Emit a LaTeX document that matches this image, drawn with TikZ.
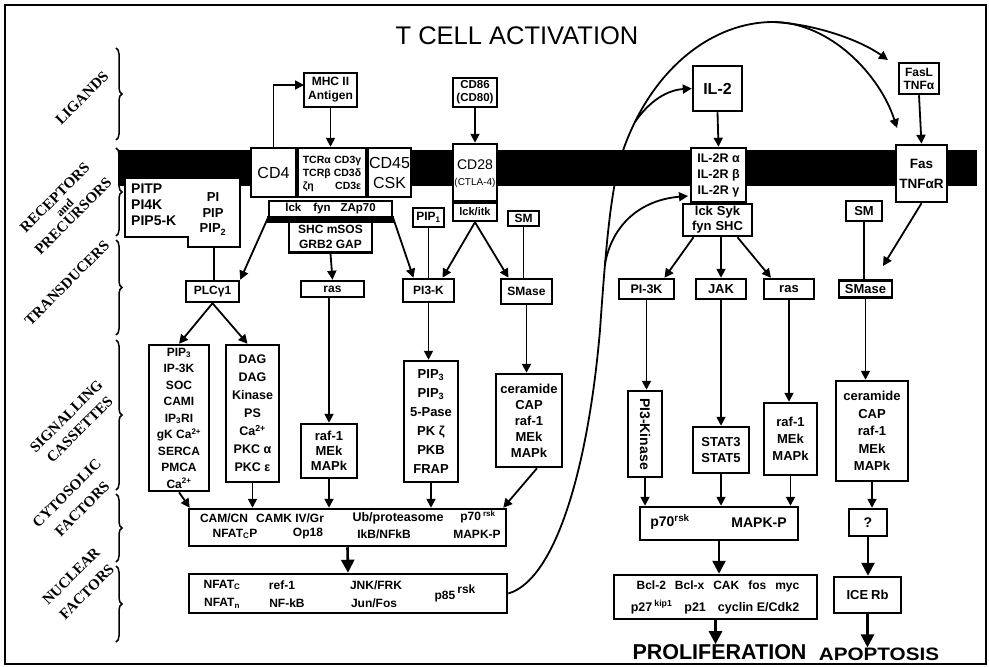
\documentclass[tikz,border=0pt]{standalone}
\usepackage{fontspec}
\setmainfont{Liberation Sans}
\newfontfamily\lblfont{Liberation Serif}
\usetikzlibrary{arrows.meta,decorations.pathreplacing}
\begin{document}
\begin{tikzpicture}[x=1pt,y=-1pt,
 bx/.style={draw,line width=2.5pt,fill=white,inner sep=0.5pt,align=center},
 sz/.style 2 args={minimum width=#1,minimum height=#2},
 f/.style 2 args={font=\bfseries\fontsize{#1}{#2}\selectfont},
 ar/.style={line width=1.8pt,-{Triangle[length=9pt,width=9pt]}},
 bar/.style={line width=2.6pt,-{Triangle[length=13pt,width=13pt]}},
 ln/.style={line width=1.8pt},
 lbl/.style={font=\lblfont\bfseries\fontsize{15}{15}\selectfont,rotate=45,inner sep=0pt,align=center},
 br/.style={decorate,decoration={brace,amplitude=6pt},line width=1.5pt},
 t/.style={inner sep=0pt,align=center}
]
\useasboundingbox (0,0) rectangle (989,667);
\fill[white] (0,0) rectangle (989,667);
\draw[line width=1.2pt] (5,5) rectangle (986,664);

% title
\node[t,font=\fontsize{25.5}{26}\selectfont] (title) at (517,36) {T CELL ACTIVATION};

% membrane
\fill (118,150) rectangle (977,186);

% PITP precursor box
\draw[line width=2.6pt,fill=white] (125,178) -- (240,178) -- (240,247) -- (188,247) -- (188,237) -- (125,237) -- cycle;
\node[t,f={14}{16},align=left,anchor=west] (pitp) at (131,205) {PITP\\PI4K\\PIP5-K};
\node[t,f={13}{15.5}] (pip) at (213,214) {PI\\PIP\\PIP\textsubscript{2}};
\coordinate (pitpb) at (214,247);

% receptor complex
\node[bx,sz={45}{49},font=\fontsize{16}{18}\selectfont] (cd4) at (273.5,172.5) {CD4};
\node[bx,sz={68}{49}] (tcr) at (332,172.5) {};
\node[t,f={10.5}{13}] (tcrt) at (332,174) {\begin{tabular}{@{}l@{\hspace{3pt}}r@{}}TCRα & CD3γ\\TCRβ & CD3δ\\ζη & CD3ε\end{tabular}};
\node[bx,sz={43}{49},font=\fontsize{16}{20}\selectfont] (cd45) at (389.5,172.5) {CD45\\CSK};
\node[bx,sz={123}{16},f={11.5}{12}] (lck1) at (330.5,209) {lck\hspace{12pt}fyn\hspace{10pt}ZAp70};
\fill (267,216) rectangle (394,223);
\node[bx,sz={83}{31},f={12}{15}] (shc) at (330.5,237) {SHC mSOS\\GRB2 GAP};

\node[bx,sz={53}{34},f={12}{14}] (mhc) at (330.5,90) {MHC II\\Antigen};
\node[bx,sz={44}{29},f={11.5}{13}] (cd86) at (475,92.5) {CD86\\(CD80)};
\node[bx,sz={44}{57}] (cd28) at (475,172.5) {};
\node[t,font=\fontsize{14}{14}\selectfont] (cd28a) at (475,165) {CD28};
\node[t,font=\fontsize{10}{10}\selectfont] (cd28b) at (475,183) {(CTLA-4)};
\node[bx,sz={44}{18},f={11}{12}] (lckitk) at (475,212) {lck/itk};
\node[bx,sz={31}{19},f={12}{12}] (pip1) at (428.5,217.5) {PIP\textsubscript{1}};
\node[bx,sz={31}{15},f={12}{12}] (sm1) at (523.5,218.5) {SM};
\node[bx,sz={51}{23},f={12}{12}] (pi3k1) at (428.5,290.5) {PI3-K};
\node[bx,sz={51}{25},f={12}{12}] (smase1) at (526.5,291.5) {SMase};
\node[bx,sz={53}{21},f={12}{12}] (plc) at (212.5,291.5) {PLCγ1};
\node[bx,sz={63}{16},f={12}{12}] (ras1) at (332.5,289) {ras};

% right side
\node[bx,sz={49}{45},f={16}{16}] (il2) at (717.5,88.5) {IL-2};
\node[bx,sz={40}{31},f={12}{13}] (fasl) at (919,78.5) {FasL\\TNFα};
\node[bx,sz={55}{54},f={12.5}{16}] (il2r) at (718.5,175) {IL-2R α\\IL-2R β\\IL-2R γ};
\node[bx,sz={69}{32},f={13}{15}] (lck2) at (717.5,220) {lck\hspace{4pt}Syk\\fyn\hspace{4pt}SHC};
\node[bx,sz={51}{57},f={13.5}{20}] (fas) at (921.5,173.5) {Fas\\TNFαR};
\node[bx,sz={36}{20},f={13}{13}] (sm2) at (864,211) {SM};
\node[bx,sz={53}{17},f={13}{13}] (smase2) at (865.5,289) {SMase};
\node[bx,sz={55}{20},f={12.5}{13}] (pi3k2) at (646.5,289) {PI-3K};
\node[bx,sz={50}{20},f={13}{13}] (jak) at (721,289) {JAK};
\node[bx,sz={50}{20},f={13}{13}] (ras2) at (789,289) {ras};

% signalling cassettes
\node[bx,sz={60}{146},inner sep=0pt,f={12}{16.5}] (pip3a) at (179,418) {PIP\textsubscript{3}\\IP-3K\\SOC\\CAMI\\IP\textsubscript{3}RI\\gK Ca\textsuperscript{2+}\\SERCA\\PMCA\\Ca\textsuperscript{2+}};
\node[bx,sz={53}{137},f={12.5}{18}] (dag) at (252.5,413.5) {DAG\\DAG\\Kinase\\PS\\Ca\textsuperscript{2+}\\PKC α\\PKC ε};
\node[bx,sz={56}{54},f={13}{15}] (raf1) at (329,451) {raf-1\\MEk\\MAPk};
\node[bx,sz={54}{121},f={13}{19}] (pip3b) at (431,421.5) {PIP\textsubscript{3}\\PIP\textsubscript{3}\\5-Pase\\PK ζ\\PKB\\FRAP};
\node[bx,sz={66}{93},f={13}{16}] (cer1) at (529,420.5) {ceramide\\CAP\\raf-1\\MEk\\MAPk};
\node[bx,sz={34}{86}] (pi3kin) at (645,434) {};
\node[t,f={14}{14},rotate=-90] (pi3kint) at (pi3kin) {PI3-Kinase};
\node[bx,sz={56}{46},f={13}{16}] (stat) at (721,450) {STAT3\\STAT5};
\node[bx,sz={53}{72},f={13}{17}] (raf2) at (790.5,439) {raf-1\\MEk\\MAPk};
\node[bx,sz={72}{100},f={13}{17.5}] (cer2) at (872,431) {ceramide\\CAP\\raf-1\\MEk\\MAPk};

% cytosolic factors
\node[bx,sz={317}{37}] (cam) at (347.5,527.5) {};
\node[t,f={12}{12}] (c1a) at (224,518) {CAM/CN};
\node[t,f={12}{12}] (c1b) at (290,518) {CAMK IV/Gr};
\node[t,f={12.5}{12}] (c1c) at (398,518) {Ub/proteasome};
\node[t,f={12}{12}] (c1d) at (478,517) {p70\,\textsuperscript{rsk}};
\node[t,f={12}{12}] (c2a) at (235,534) {NFAT\textsubscript{C}P};
\node[t,f={12}{12}] (c2b) at (308,534) {Op18};
\node[t,f={12}{12}] (c2c) at (384,534) {IkB/NFkB};
\node[t,f={12}{12}] (c2d) at (477,534) {MAPK-P};

\node[bx,sz={158}{33}] (p70) at (719,523.5) {};
\node[t,f={14}{14}] (p70a) at (670,522) {p70\textsuperscript{rsk}};
\node[t,f={14}{14}] (p70b) at (759,523) {MAPK-P};
\node[bx,sz={38}{27},f={14}{14}] (q) at (868,522.5) {?};

% nuclear factors
\node[bx,sz={318}{39}] (nfat) at (348,593.5) {};
\node[t,f={12}{12}] (n1a) at (222,585) {NFAT\textsubscript{C}};
\node[t,f={12}{12}] (n2a) at (222,603) {NFAT\textsubscript{n}};
\node[t,f={12}{12}] (n1b) at (282,585) {ref-1};
\node[t,f={12}{12}] (n2b) at (287,603) {NF-kB};
\node[t,f={12}{12}] (n1c) at (376,585) {JNK/FRK};
\node[t,f={12}{12}] (n2c) at (374,603) {Jun/Fos};
\node[t,f={12}{12}] (n3) at (455,593) {p85\,\raisebox{6pt}{rsk}};

\node[bx,sz={203}{44}] (bcl) at (715.5,597) {};
\node[t,f={12}{12}] (bcla) at (718,586) {Bcl-2\hspace{9pt}Bcl-x\hspace{9pt}CAK\hspace{9pt}fos\hspace{9pt}myc};
\node[t,f={12.5}{12}] (bclb) at (715,607) {p27\,\textsuperscript{kip1}\hspace{12pt}p21\hspace{12pt}cyclin E/Cdk2};
\node[bx,sz={67}{36},f={13}{13}] (ice) at (867.5,595) {ICE\hspace{3pt}Rb};

\node[t,font=\bfseries\fontsize{21.5}{22}\selectfont] (prol) at (719.5,652) {PROLIFERATION};
\node[t,font=\bfseries\fontsize{18}{18}\selectfont,xscale=1.15] (apop) at (879,654) {APOPTOSIS};

% connectors
\coordinate (mhcin) at (304,85);
\draw[ar] (cd4.north) |- (mhcin);
\draw[ar] (mhc.south) -- (mhc.south |- tcr.north);
\draw[ar] (cd86.south) -- (cd28.north);
\draw[ar] (il2.south) -- (il2r.north);
\draw[ar] (fasl.south) -- (fas.north);
\draw[ar] (lck1.south west) -- (plc.north east);
\draw[ln] (pitpb) -- (pitpb |- plc.north);
\draw[ar] (shc.south) -- (ras1.north);
\draw[ar] (lck1.south east) -- ([xshift=-15pt]pi3k1.north);
\draw[ln] (pip1.south) -- (pi3k1.north);
\draw[ar] (lckitk.south) -- ([xshift=14pt]pi3k1.north);
\draw[ar] (lckitk.south) -- ([xshift=-18pt]smase1.north);
\draw[ln] (sm1.south) -- (sm1.south |- smase1.north);
\draw[ar] (plc.south) -- (pip3a.north);
\draw[ar] (plc.south) -- ([xshift=-5pt]dag.north);
\draw[ar] (raf1.north |- ras1.south) -- (raf1.north);
\draw[ar] (pi3k1.south) -- (pi3k1.south |- pip3b.north);
\draw[ar] (smase1.south) -- (smase1.south |- cer1.north);
\draw[ar] (pip3a.south) -- ([xshift=2pt]cam.north west);
\draw[ar] (dag.south) -- (dag.south |- cam.north);
\draw[ar] (raf1.south) -- (raf1.south |- cam.north);
\draw[ar] (pip3b.south) -- (pip3b.south |- cam.north);
\draw[ar] ([xshift=8pt]cer1.south) -- ([xshift=-4pt]cam.north east);
\draw[bar] (cam.south) -- (nfat.north);

\draw[ar] ([xshift=-24pt]lck2.south) -- ([xshift=18pt]pi3k2.north);
\draw[ar] (jak.north |- lck2.south) -- (jak.north);
\draw[ar] ([xshift=20pt]lck2.south) -- ([xshift=-18pt]ras2.north);
\draw[ln] (sm2.south) -- (sm2.south |- smase2.north);
\coordinate (fasout) at (883,266);
\draw[ar] (fas.south) -- (fasout);
\draw[ar] (pi3k2.south) -- (pi3k2.south |- pi3kin.north);
\draw[ar] (jak.south) -- (stat.north);
\draw[ar] (ras2.south) -- (ras2.south |- raf2.north);
\draw[ar] (smase2.south) -- (smase2.south |- cer2.north);
\draw[ar] (pi3kin.south) -- (pi3kin.south |- p70.north);
\draw[ar] (stat.south) -- (stat.south |- p70.north);
\draw[ar] (raf2.south) -- (raf2.south |- p70.north);
\draw[ar] (cer2.south) -- (cer2.south |- q.north);
\draw[bar] (p70.south) -- (p70.south |- bcl.north);
\draw[bar] (q.south) -- (q.south |- ice.north);
\draw[bar] (bcl.south) -- (bcl.south |- prol.north);
\draw[bar] (ice.south) -- (ice.south |- apop.north);

% feedback curve
\coordinate (cv1) at (600,330);
\coordinate (cv2) at (625,145);
\coordinate (peak) at (773,22);
\coordinate (fasin) at (897,128);
\coordinate (fasl2) at (888,60);
\coordinate (b1) at (635,122);
\coordinate (b2) at (605,264);
\coordinate (il2rin) at (688,196);
\draw[ar] (nfat.east) .. controls (555,580) and (588,470) .. (cv1)
  .. controls (607,230) and (612,180) .. (cv2)
  .. controls (655,65) and (715,22) .. (peak)
  .. controls (830,22) and (880,75) .. (fasin);
\draw[ar] (peak) .. controls (815,24) and (860,40) .. (fasl2);
\draw[ar] (b1) .. controls (650,100) and (668,90) .. (il2.west);
\draw[ar] (b2) .. controls (612,225) and (640,200) .. (il2rin);

% level braces
\coordinate (bl1) at (116,140); \coordinate (bl1t) at (116,48);
\coordinate (bl2) at (116,236); \coordinate (bl2t) at (116,148);
\coordinate (bl3) at (116,335); \coordinate (bl3t) at (116,240);
\coordinate (bl4) at (116,490); \coordinate (bl4t) at (116,340);
\coordinate (bl5) at (116,562); \coordinate (bl5t) at (116,494);
\coordinate (bl6) at (116,642); \coordinate (bl6t) at (116,566);
\draw[br] (bl1t) -- (bl1);
\draw[br] (bl2t) -- (bl2);
\draw[br] (bl3t) -- (bl3);
\draw[br] (bl4t) -- (bl4);
\draw[br] (bl5t) -- (bl5);
\draw[br] (bl6t) -- (bl6);

% level labels
\node[lbl] (lg) at (82,98) {LIGANDS};
\node[lbl,font=\lblfont\bfseries\fontsize{15}{15}\selectfont] (rc) at (64,207) {RECEPTORS\\[-2pt]{\fontsize{12}{12}\selectfont and}\\[-2pt]PRECURSORS};
\node[lbl] (td) at (67,283) {TRANSDUCERS};
\node[lbl,font=\lblfont\bfseries\fontsize{15}{19}\selectfont] (sg) at (73,423) {SIGNALLING\\CASSETTES};
\node[lbl,font=\lblfont\bfseries\fontsize{15}{22}\selectfont] (cy) at (74.5,501) {CYTOSOLIC\\FACTORS};
\node[lbl,font=\lblfont\bfseries\fontsize{15}{22}\selectfont] (nu) at (79,584) {NUCLEAR\\FACTORS};
\end{tikzpicture}
\end{document}
